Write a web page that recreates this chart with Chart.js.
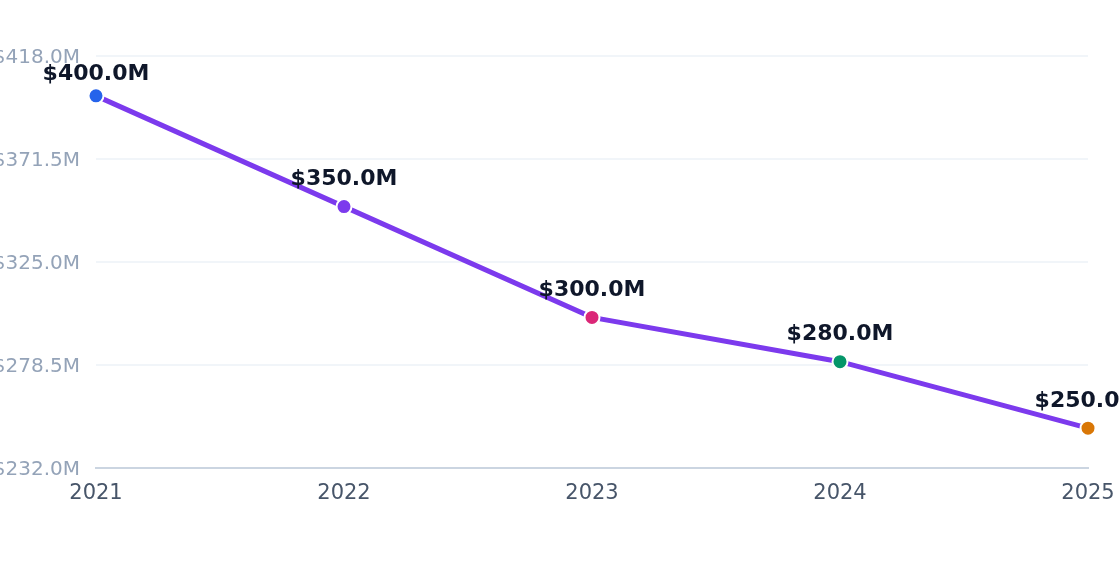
<!DOCTYPE html>
<html>
<head>
<meta charset="utf-8">
<script src="https://cdn.jsdelivr.net/npm/chart.js@4.4.1/dist/chart.umd.min.js"></script>
<style>
  html, body { margin: 0; padding: 0; background: #ffffff; }
  #wrap { position: relative; width: 1120px; height: 572px; }
</style>
</head>
<body>
<div id="wrap"><canvas id="myChart"></canvas></div>
<script>
const years = ['2021', '2022', '2023', '2024', '2025'];
const revenue = [400, 350, 300, 280, 250];
const pointColors = ['#2563eb', '#7c3aed', '#db2777', '#059669', '#d97706'];
const yTicks = [232, 278.5, 325, 371.5, 418];

const money = v => '$' + Number(v).toFixed(1) + 'M';

// value labels above each point, kept just under the top gridline
const valueLabels = {
  id: 'valueLabels',
  beforeDraw(chart) {
    // nudge y tick labels down a little so they sit on their gridlines
    const items = chart.scales.y.getLabelItems();
    if (!items._shifted) {
      items.forEach(it => { it.options.translation[1] += 2; });
      items._shifted = true;
    }
  },
  afterDatasetsDraw(chart) {
    const ctx = chart.ctx;
    const meta = chart.getDatasetMeta(0);
    const minY = chart.chartArea.top + 18;
    ctx.save();
    ctx.font = 'bold 22px "DejaVu Sans"';
    ctx.fillStyle = '#0f172a';
    ctx.textAlign = 'center';
    ctx.textBaseline = 'middle';
    meta.data.forEach((pt, i) => {
      ctx.fillText(money(revenue[i]), pt.x, Math.max(pt.y - 27, minY));
    });
    ctx.restore();
  }
};

const ctx = document.getElementById('myChart').getContext('2d');
new Chart(ctx, {
  type: 'line',
  data: {
    labels: years,
    datasets: [{
      data: revenue,
      borderColor: '#7c3aed',
      borderWidth: 5,
      tension: 0,
      pointRadius: 7.5,
      pointHoverRadius: 7.5,
      pointBackgroundColor: pointColors,
      pointBorderColor: '#ffffff',
      pointBorderWidth: 2
    }]
  },
  options: {
    responsive: true,
    maintainAspectRatio: false,
    animation: false,
    layout: { padding: { top: 56, right: 0, bottom: 0, left: 0 } },
    plugins: {
      legend: { display: false },
      tooltip: { enabled: false }
    },
    scales: {
      x: {
        grid: { display: false, drawTicks: false },
        border: { display: true, color: '#cbd5e1', width: 2 },
        ticks: {
          color: '#475569',
          font: { family: 'DejaVu Sans', size: 21 },
          padding: 13
        },
        afterFit(scale) {
          scale.height = 104;
          scale.paddingRight = 32;
          scale.paddingLeft = 0;
        }
      },
      y: {
        min: 232,
        max: 418,
        afterBuildTicks(scale) { scale.ticks = yTicks.map(v => ({ value: v })); },
        grid: { color: '#f1f5f9', lineWidth: 2, drawTicks: false },
        border: { display: false },
        ticks: {
          color: '#94a3b8',
          font: { family: 'DejaVu Sans', size: 20 },
          padding: 16,
          callback: v => money(v)
        },
        afterFit(scale) { scale.width = 96; }
      }
    }
  },
  plugins: [valueLabels]
});
</script>
</body>
</html>
